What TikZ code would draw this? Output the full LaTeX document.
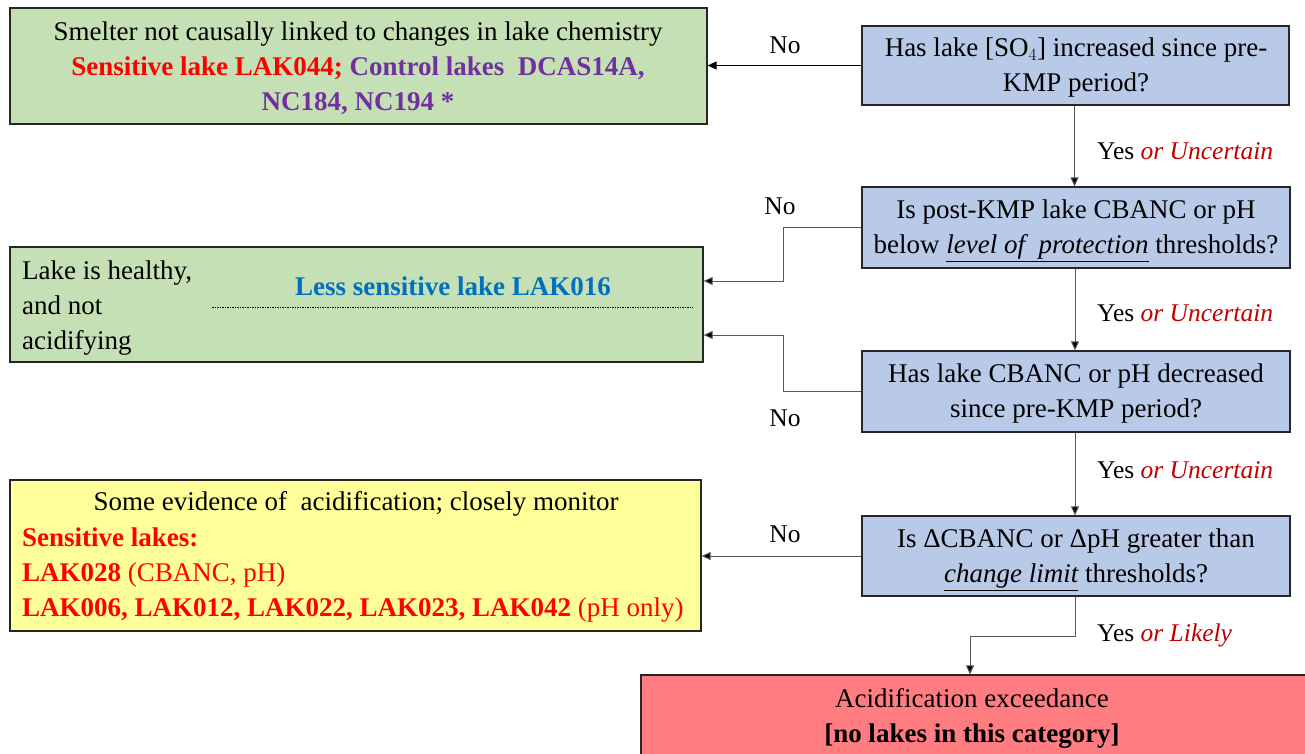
\documentclass[tikz,border=0pt]{standalone}
\usepackage{fontspec}
\setmainfont{Liberation Serif}
\usetikzlibrary{arrows.meta}
\definecolor{gfill}{HTML}{C5E0B4}
\definecolor{bfill}{HTML}{B9CAE8}
\definecolor{yfill}{HTML}{FFFF99}
\definecolor{rfill}{HTML}{FF7C80}
\definecolor{lred}{HTML}{FF0000}
\definecolor{dred}{HTML}{C00000}
\definecolor{purp}{HTML}{7030A0}
\definecolor{lblue}{HTML}{0070C0}
\definecolor{bord}{HTML}{262626}
\definecolor{lgray}{HTML}{595959}
\newcommand{\fs}{\fontsize{27}{35}\selectfont}
\newcommand{\fl}{\fontsize{25.5}{34}\selectfont}
\begin{document}
\begin{tikzpicture}[x=1pt,y=-1pt,
  box/.style={draw=bord, line width=1.2pt, inner sep=0pt, align=center, font=\fs},
  qbox/.style={box, fill=bfill, minimum width=428, minimum height=80},
  txt/.style={inner sep=0pt, font=\fs},
  lab/.style={inner sep=0pt, font=\fl},
  conn/.style={draw=lgray, line width=1pt, -{Triangle[length=9pt,width=8pt,fill=black]}},
]
\useasboundingbox (0,0) rectangle (1305,754);
\clip (0,0) rectangle (1305,754);

% outcome boxes
\node[box, fill=gfill, minimum width=697, minimum height=116] (g1) at (358.5,66) {};
\node[txt, align=center] (g1t) at (358,68)
  {Smelter not causally linked to changes in lake chemistry\\
   {\bfseries\color{lred}Sensitive lake LAK044;} {\bfseries\color{purp}Control lakes~~DCAS14A,}\\
   {\bfseries\color{purp}NC184, NC194 *}};
\node[box, fill=gfill, minimum width=693, minimum height=115] (g2) at (356.5,304.5) {};
\node[txt, align=left, anchor=west] (g2t) at (22,308) {Lake is healthy,\\and not\\acidifying};
\node[txt, text=lblue, font=\fs\bfseries] (g2b) at (453,286) {Less sensitive lake LAK016};
\coordinate (dl) at (212,307);
\coordinate (dr) at (693,307);
\draw[line width=0.6pt, dash pattern=on 1.5pt off 1pt] (dl) -- (dr);

\node[box, fill=yfill, minimum width=691, minimum height=151] (y1) at (355.5,555.5) {};
\node[txt] (y1t) at (356,504) {Some evidence of~ acidification; closely monitor};
\node[txt, align=left, anchor=west, text=lred] (y1l) at (22,575)
  {\bfseries Sensitive lakes:\\
   {\bfseries LAK028} (CBANC, pH)\\
   {\bfseries LAK006, LAK012, LAK022, LAK023, LAK042} (pH only)};

\node[box, fill=rfill, minimum width=669, minimum height=85] (r1) at (975.5,717.5) {};
\node[txt, align=center] (r1t) at (972,718)
  {Acidification exceedance\\{\bfseries [no lakes in this category]}};

% question boxes
\node[qbox, minimum width=427, minimum height=79] (q1) at (1075.5,65.5) {};
\node[txt, align=center] (q1t) at (1076,68) {Has lake [SO$_4$] increased since pre-\\KMP period?};
\node[qbox, minimum height=81] (q2) at (1076,227.5) {};
\node[txt, align=center] (q2t) at (1076,231)
  {Is post-KMP lake CBANC or pH\\below \underline{\itshape level of~ protection} thresholds?};
\node[qbox, minimum height=81] (q3) at (1076,391.5) {};
\node[txt, align=center] (q3t) at (1076,394) {Has lake CBANC or pH decreased\\since pre-KMP period?};
\node[qbox] (q4) at (1076,556) {};
\node[txt, align=center] (q4t) at (1076,560)
  {Is ΔCBANC or ΔpH greater than\\\underline{\itshape change limit} thresholds?};

% connectors
\coordinate (elb) at (783,0);
\draw[conn, draw=black] (q1.west) -- (q1.west -| g1.east);
\draw[conn] (q2.west) -- (q2.west -| elb) |- ([yshift=23.5pt]g2.east);
\draw[conn] (q3.west) -- (q3.west -| elb) |- ([yshift=-30.5pt]g2.east);
\draw[conn] (q4.west) -- (q4.west -| y1.east);
\draw[conn] ([xshift=-1pt]q1.south) -- ([xshift=-1pt]q1.south |- q2.north);
\draw[conn] ([xshift=-1pt]q2.south) -- ([xshift=-1pt]q2.south |- q3.north);
\draw[conn] ([xshift=-1pt]q3.south) -- ([xshift=-1pt]q3.south |- q4.north);
\coordinate (rtop) at ([xshift=-5.5pt]r1.north);
\draw[conn] ([xshift=-1pt]q4.south) -- ++(0,40) -| (rtop);

% labels
\node[lab] (n1) at (785,45) {No};
\node[lab] (n2) at (780,206) {No};
\node[lab] (n3) at (785,418) {No};
\node[lab] (n4) at (785,534) {No};
\node[lab, anchor=west] (y1lab) at (1097,151) {Yes \textcolor{dred}{\itshape or Uncertain}};
\node[lab, anchor=west] (y2lab) at (1097,313) {Yes \textcolor{dred}{\itshape or Uncertain}};
\node[lab, anchor=west] (y3lab) at (1097,470) {Yes \textcolor{dred}{\itshape or Uncertain}};
\node[lab, anchor=west] (y4lab) at (1097,635) {Yes \textcolor{dred}{\itshape or Likely}};
\end{tikzpicture}
\end{document}
